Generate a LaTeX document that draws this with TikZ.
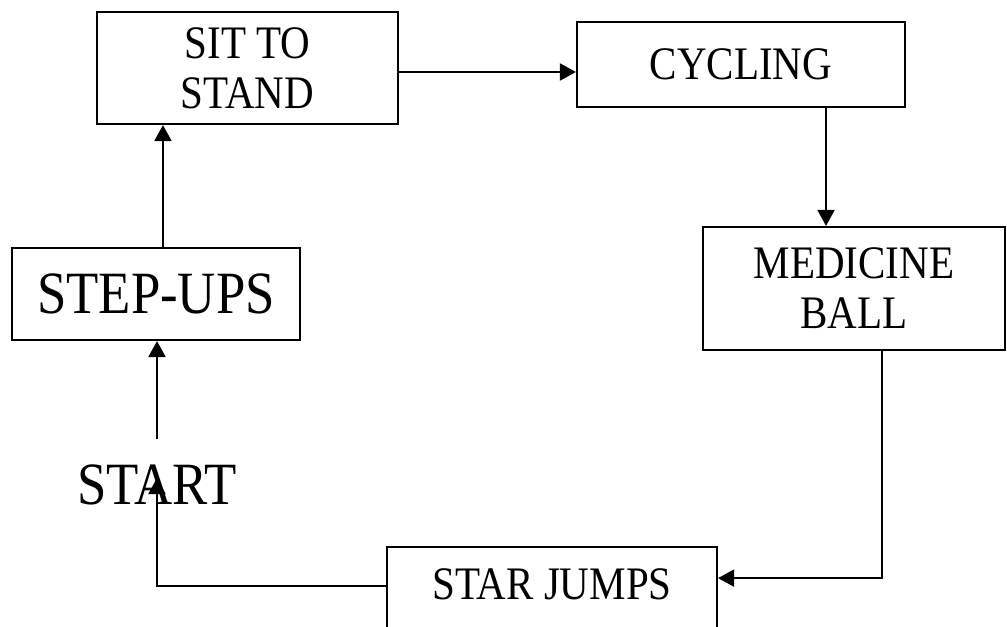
\documentclass[tikz,border=0pt]{standalone}
\usepackage{fontspec}
\setmainfont{Liberation Serif}
\newfontfamily\tallserif[FakeStretch=0.88]{Liberation Serif}
\usepackage{tikz}
\usetikzlibrary{arrows.meta,positioning}

\tikzset{
  station/.style={draw, line width=1.1pt, inner sep=0pt, align=center,
    font=\tallserif\fontsize{23.3}{25}\selectfont},
  bigstation/.style={station, font=\tallserif\fontsize{30}{33}\selectfont},
  flow/.style={line width=1pt, -{Triangle[length=8pt,width=8.5pt]}}
}

\begin{document}
\begin{tikzpicture}
\useasboundingbox (0,0) rectangle (17.696,11.018);
\clip (0,0) rectangle (17.696,11.018);

% the circuit stations
\node (sit) at (4.349,9.823) [station, minimum width=5.29cm, minimum height=1.968cm] {SIT TO\\STAND};
\node (cyc) at (13.022,9.885) [station, minimum width=5.764cm, minimum height=1.494cm] {CYCLING};
\node (med) at (15.007,5.948) [station, minimum width=5.307cm, minimum height=2.161cm] {MEDICINE\\BALL};
\node (step) at (2.741,5.852) [bigstation, minimum width=5.061cm, minimum height=1.617cm] {STEP-UPS};
\node (start) at (2.759,2.495) [font=\tallserif\fontsize{30}{33}\selectfont, inner xsep=0pt, inner ysep=12.5pt] {START};

% bottom box runs off the page
\node (star) at (9.7,1.423) [station, anchor=north, minimum width=5.799cm,
  inner ysep=9pt, text height=17pt, text depth=14pt] {STAR JUMPS};

% arrows round the circuit
\draw [flow] ([yshift=-2pt]sit.east) -- ([yshift=-2pt]sit.east -| cyc.west);
\draw [flow] ([xshift=42.5pt]cyc.south) -- ([xshift=42.5pt]cyc.south |- med.north);
\draw [flow] ([xshift=14pt]med.south) |- ([yshift=10.5pt]star.base east);
\draw [flow] ([yshift=6.5pt]star.base west) -| ([yshift=3.5pt]start.center);
\draw [flow] (start.north) -- (start.north |- step.south);
\draw [flow] ([xshift=3.5pt]step.north) -- ([xshift=3.5pt]step.north |- sit.south);
\end{tikzpicture}
\end{document}
